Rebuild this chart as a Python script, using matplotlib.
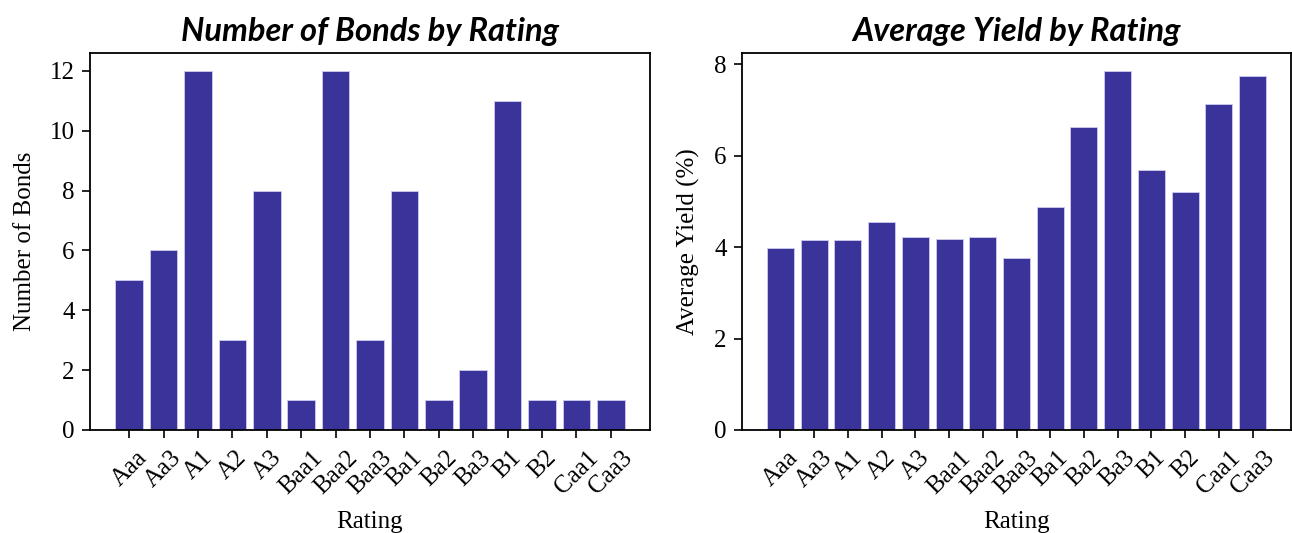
import matplotlib
matplotlib.use("Agg")
import matplotlib.pyplot as plt

ratings = ["Aaa", "Aa3", "A1", "A2", "A3", "Baa1", "Baa2", "Baa3",
           "Ba1", "Ba2", "Ba3", "B1", "B2", "Caa1", "Caa3"]
bond_counts = [5, 6, 12, 3, 8, 1, 12, 3, 8, 1, 2, 11, 1, 1, 1]
avg_yield = [3.98, 4.15, 4.15, 4.54, 4.22, 4.17, 4.23, 3.75,
             4.88, 6.62, 7.85, 5.69, 5.20, 7.13, 7.73]

bar_color = "#3a3399"
edge_color = "#cfcbf0"

plt.rcParams["font.family"] = ["Liberation Serif", "DejaVu Serif"]
plt.rcParams["font.size"] = 18

fig = plt.figure(figsize=(12.92, 5.33), dpi=100)
ax1 = fig.add_axes([90 / 1292, 1 - 430 / 533, 560 / 1292, 377 / 533])
ax2 = fig.add_axes([742 / 1292, 1 - 430 / 533, 549 / 1292, 377 / 533])

title_font = dict(family=["Lato", "DejaVu Sans"], weight="bold",
                  style="italic", size=23.5)

panels = [
    (ax1, bond_counts, "Number of Bonds by Rating", "Number of Bonds"),
    (ax2, avg_yield, "Average Yield by Rating", "Average Yield (%)"),
]

for ax, values, title, ylabel in panels:
    ax.bar(ratings, values, color=bar_color, edgecolor=edge_color,
           linewidth=0.6)
    ax.set_title(title, fontdict=title_font, pad=9)
    ax.set_xlabel("Rating", labelpad=9)
    ax.set_ylabel(ylabel, labelpad=10)
    ax.tick_params(axis="x", rotation=45, length=6, width=1.2, pad=6)
    ax.tick_params(axis="y", length=6, width=1.2, pad=5)
    for spine in ax.spines.values():
        spine.set_linewidth(1.3)

ax1.set_yticks([0, 2, 4, 6, 8, 10, 12])
ax2.set_yticks([0, 2, 4, 6, 8])

fig.savefig("out.png", dpi=100)
